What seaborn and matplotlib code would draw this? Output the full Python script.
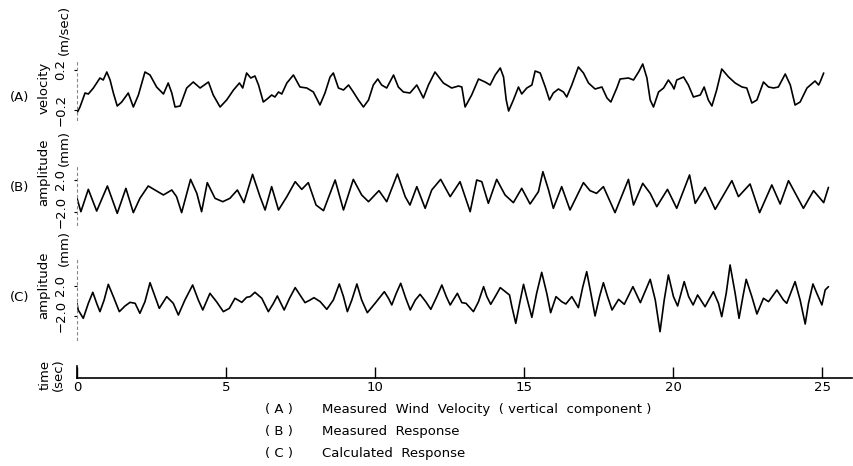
import matplotlib
matplotlib.use("Agg")
import matplotlib.pyplot as plt
import seaborn as sns

# (A) measured wind velocity (m/sec)
time_a = [0.0, 0.10, 0.27, 0.38, 0.55, 0.77, 0.88, 1.00, 1.11, 1.22,
          1.35, 1.50, 1.72, 1.89, 2.06, 2.28, 2.45, 2.67, 2.90, 3.06,
          3.18, 3.29, 3.46, 3.68, 3.90, 4.13, 4.41, 4.57, 4.80, 5.02,
          5.25, 5.45, 5.56, 5.69, 5.83, 5.97, 6.09, 6.25, 6.42, 6.53,
          6.64, 6.76, 6.87, 7.04, 7.26, 7.48, 7.71, 7.93, 8.15, 8.32,
          8.49, 8.60, 8.77, 8.94, 9.11, 9.27, 9.44, 9.61, 9.78, 9.94,
          10.09, 10.22, 10.39, 10.62, 10.78, 10.95, 11.17, 11.40,
          11.62, 11.79, 12.01, 12.29, 12.57, 12.80, 12.91, 13.02, 13.24, 13.47,
          13.69, 13.86, 14.03, 14.20, 14.31, 14.40, 14.48, 14.64, 14.81, 14.92,
          15.09, 15.26, 15.37, 15.54, 15.71, 15.85, 15.98, 16.15, 16.32, 16.43,
          16.60, 16.82, 16.99, 17.16, 17.38, 17.61, 17.78, 17.91, 18.11, 18.22,
          18.50, 18.67, 18.84, 18.98, 19.12, 19.23, 19.34, 19.51, 19.68, 19.84,
          19.96, 20.03, 20.12, 20.35, 20.51, 20.68, 20.91, 21.04, 21.18, 21.30,
          21.46, 21.63, 21.86, 22.08, 22.31, 22.47, 22.64, 22.81, 23.03, 23.20,
          23.37, 23.53, 23.76, 23.93, 24.09, 24.26, 24.49, 24.76, 24.88, 24.93,
          25.05]
vel_a = [-0.23, -0.17, -0.03, -0.04, 0.02, 0.12, 0.10, 0.18, 0.10, -0.03,
         -0.16, -0.12, -0.03, -0.17, -0.05, 0.18, 0.15, 0.03, -0.04, 0.07,
         -0.03, -0.17, -0.16, 0.02, 0.08, 0.02, 0.08, -0.05, -0.17, -0.10,
         0.0, 0.07, 0.02, 0.17, 0.12, 0.14, 0.05, -0.12, -0.08, -0.05,
         -0.07, -0.02, -0.04, 0.07, 0.15, 0.03, 0.02, -0.02, -0.15, -0.03,
         0.13, 0.17, 0.02, 0.0, 0.05, -0.02, -0.10, -0.17, -0.10, 0.05,
         0.11, 0.05, 0.02, 0.15, 0.03, -0.02, -0.03, 0.05,
         -0.08, 0.05, 0.18, 0.07, 0.02, 0.04, 0.03, -0.17, -0.05, 0.11,
         0.08, 0.05, 0.15, 0.22, 0.13, -0.10, -0.21, -0.10, 0.03, -0.04,
         0.02, 0.05, 0.19, 0.17, 0.03, -0.10, -0.03, 0.01, -0.02, -0.07,
         0.05, 0.23, 0.17, 0.07, 0.01, 0.03, -0.08, -0.12, 0.02, 0.11,
         0.12, 0.10, 0.18, 0.26, 0.12, -0.10, -0.17, -0.02, 0.02, 0.10,
         0.05, 0.01, 0.10, 0.13, 0.05, -0.07, -0.05, 0.03, -0.10, -0.16,
         0.0, 0.21, 0.13, 0.07, 0.03, 0.02, -0.13, -0.10, 0.08, 0.03,
         0.02, 0.03, 0.16, 0.05, -0.15, -0.12, 0.02, 0.09, 0.05, 0.08,
         0.17]

# (B) measured response (mm)
time_b = [0.0, 0.13, 0.38, 0.66, 1.02, 1.35, 1.64, 1.89, 2.11, 2.39,
          2.67, 2.90, 3.18, 3.34, 3.51, 3.81, 4.02, 4.18, 4.37, 4.63,
          4.89, 5.13, 5.38, 5.60, 5.89, 6.14, 6.31, 6.53, 6.76, 7.04,
          7.32, 7.54, 7.76, 8.02, 8.27, 8.66, 8.94, 9.27, 9.55, 9.78,
          10.13, 10.39, 10.75, 11.01, 11.17, 11.40, 11.68, 11.90, 12.20, 12.52,
          12.85, 13.19, 13.41, 13.58, 13.80, 14.08, 14.36, 14.64, 14.92, 15.20,
          15.48, 15.63, 15.82, 15.98, 16.26, 16.54, 16.99, 17.21, 17.43, 17.66,
          18.05, 18.50, 18.67, 18.98, 19.23, 19.45, 19.81, 20.12, 20.55, 20.74,
          21.07, 21.41, 21.97, 22.19, 22.58, 22.90, 23.31, 23.59, 23.87, 24.37,
          24.71, 25.05, 25.21]
amp_b = [-0.29, -1.96, 0.83, -1.88, 1.25, -2.17, 0.96, -2.08, -0.29, 1.25,
         0.63, 0.13, 0.75, -0.08, -2.08, 2.08, 0.33, -1.96, 1.67, -0.29,
         -0.71, -0.29, 0.75, -0.83, 2.71, -0.08, -1.75, 1.17, -1.75, -0.08,
         1.79, 0.83, 1.67, -1.13, -1.83, 2.0, -1.75, 2.08, 0.13, -0.71,
         0.67, -0.71, 2.75, -0.08, -1.13, 1.17, -1.54, 0.75, 2.08, -0.08,
         1.79, -1.96, 2.0, 1.79, -0.92, 2.08, 0.13, -0.83, 0.96, -1.0,
         0.54, 3.04, 0.75, -1.54, 1.17, -1.75, 1.67, 0.67, 0.33, 1.17,
         -2.08, 2.08, -1.13, 1.58, 0.33, -1.33, 0.83, -1.54, 2.63, -0.92,
         1.08, -1.67, 1.92, -0.08, 1.5, -2.08, 1.38, -1.0, 1.92, -1.54,
         0.67, -0.83, 1.08]

# (C) calculated response (mm)
time_c = [0.0, 0.04, 0.21, 0.38, 0.53, 0.66, 0.77, 0.91, 1.05, 1.22,
          1.42, 1.61, 1.78, 1.95, 2.11, 2.28, 2.45, 2.62, 2.76, 3.01,
          3.23, 3.40, 3.62, 3.88, 4.07, 4.22, 4.46, 4.68, 4.91, 5.11,
          5.30, 5.53, 5.69, 5.81, 5.97, 6.20, 6.42, 6.59, 6.72, 6.84,
          6.95, 7.13, 7.32, 7.48, 7.65, 7.82, 7.95, 8.16, 8.38, 8.60,
          8.80, 8.94, 9.07, 9.22, 9.39, 9.55, 9.74, 10.00, 10.31, 10.45,
          10.56, 10.71, 10.86, 11.03, 11.18, 11.35, 11.51, 11.70, 11.87, 12.07,
          12.24, 12.39, 12.52, 12.76, 12.91, 13.05, 13.30, 13.47, 13.64, 13.75,
          13.88, 14.03, 14.20, 14.37, 14.51, 14.59, 14.72, 14.85, 14.98, 15.11,
          15.26, 15.42, 15.59, 15.76, 15.89, 16.07, 16.26, 16.40, 16.60, 16.82,
          16.97, 17.10, 17.24, 17.38, 17.53, 17.66, 17.80, 17.95, 18.17, 18.36,
          18.65, 18.90, 19.23, 19.40, 19.56, 19.70, 19.84, 20.01, 20.15, 20.37,
          20.52, 20.67, 20.82, 21.07, 21.35, 21.52, 21.63, 21.78, 21.91, 22.08,
          22.21, 22.34, 22.45, 22.64, 22.81, 23.03, 23.20, 23.48, 23.70, 23.81,
          24.09, 24.26, 24.43, 24.54, 24.69, 24.82, 24.99, 25.10, 25.21]
amp_c = [-0.31, -1.2, -2.31, -0.31, 1.16, -0.31, -1.42, 0.13, 2.22, 0.58,
         -1.42, -0.67, -0.18, -0.31, -1.64, -0.09, 2.44, 0.58, -0.98, 0.58,
         -0.31, -1.87, 0.13, 2.13, 0.13, -1.2, 1.02, -0.09, -1.42, -0.98,
         0.36, -0.18, 0.49, 0.58, 1.16, 0.36, -1.42, -0.31, 0.67, -0.31,
         -1.2, 0.36, 1.78, 0.8, -0.22, 0.13, 0.44, -0.09, -1.11, 0.13,
         2.27, 0.58, -1.42, 0.13, 2.27, 0.13, -1.56, -0.31, 1.24, 0.36,
         -0.53, 1.02, 2.36, 0.36, -1.2, 0.13, 0.89, -0.09, -1.11, 0.58,
         2.13, 0.58, -0.53, 1.02, -0.22, -0.31, -1.42, -0.09, 1.91, 0.58,
         -0.44, 0.58, 1.78, 1.24, 0.8, -0.76, -2.98, -0.31, 2.22, 0.13,
         -2.18, 1.02, 3.82, 1.02, -1.56, 0.58, -0.09, -0.4, 0.58, -0.89,
         1.91, 3.91, 1.02, -2.0, 0.58, 2.44, 0.58, -1.2, 0.22, -0.44,
         1.91, -0.22, 2.89, 0.13, -4.09, 0.13, 3.47, 0.58, -0.67, 2.58,
         0.58, -0.53, 0.8, -0.76, 1.24, -0.31, -2.09, 1.02, 4.8, 1.02,
         -2.31, 0.58, 2.89, 0.58, -1.73, 0.36, -0.09, 1.47, 0.13, -0.31,
         2.58, 0.13, -3.07, -0.31, 2.27, 1.02, -0.53, 1.47, 1.91]

time_ticks = [0, 5, 10, 15, 20, 25]
legend_keys = ["( A )", "( B )", "( C )"]
legend_text = ["Measured  Wind  Velocity  ( vertical  component )",
               "Measured  Response",
               "Calculated  Response"]

sns.set_theme(style="white")
plt.rcParams["font.family"] = ["DejaVu Sans"]
plt.rcParams["text.color"] = "black"
plt.rcParams["xtick.color"] = "black"
plt.rcParams["ytick.color"] = "black"

W, H = 854, 466
fig = plt.figure(figsize=(W / 100, H / 100), dpi=100)
X0, X1 = 77, 852


def px_axes(top, bottom):
    return fig.add_axes([X0 / W, 1 - bottom / H, (X1 - X0) / W, (bottom - top) / H])


def trace_panel(top, bottom, t, y, ylim, ticks, ticklabels):
    ax = px_axes(top, bottom)
    sns.lineplot(x=t, y=y, ax=ax, color="black", lw=1.2, sort=False, estimator=None)
    ax.lines[0].set_solid_joinstyle("round")
    ax.set_xlim(0, 26)
    ax.set_ylim(*ylim)
    for s in ["top", "right", "bottom"]:
        ax.spines[s].set_visible(False)
    ax.spines["left"].set_linestyle((0, (2, 3)))
    ax.spines["left"].set_color("#888888")
    ax.spines["left"].set_linewidth(0.8)
    ax.set_xticks([])
    ax.set_yticks(ticks)
    ax.set_yticklabels(ticklabels, rotation=90, va="center", fontsize=9.5)
    ax.tick_params(axis="y", length=2, pad=5, left=True, width=0.8)
    ax.set_xlabel("")
    ax.set_ylabel("")
    ax.patch.set_alpha(0)
    return ax


trace_panel(60, 120, time_a, vel_a, (-0.30, 0.30), [-0.2, 0.2], ["\u22120.2", "0.2"])
trace_panel(165, 225, time_b, amp_b, (-3.625, 3.875), [-2, 2], ["\u22122.0", "2.0"])
trace_panel(258, 340, time_c, amp_c, (-5.2, 5.73), [-2, 2], ["\u22122.0", "2.0"])


def ftext(x, y, s, **kw):
    fig.text(x / W, 1 - y / H, s, ha="center", va="center", fontsize=9.5, **kw)


# left side annotations
ftext(20, 97, "(A)")
ftext(44, 88, "velocity", rotation=90)
ftext(64, 30, "(m/sec)", rotation=90)
ftext(20, 188, "(B)")
ftext(44, 172, "amplitude", rotation=90)
ftext(64, 148, "(mm)", rotation=90)
ftext(20, 298, "(C)")
ftext(44, 285, "amplitude", rotation=90)
ftext(64, 248, "(mm)", rotation=90)
ftext(45, 375, "time", rotation=90)
ftext(58, 375, "(sec)", rotation=90)

# time axis
axt = px_axes(366, 378)
axt.set_xlim(0, 26)
axt.set_ylim(0, 1)
for s in ["top", "right"]:
    axt.spines[s].set_visible(False)
for s in ["left", "bottom"]:
    axt.spines[s].set_color("black")
    axt.spines[s].set_linewidth(1.2)
axt.set_xticks(time_ticks)
axt.set_xticklabels([str(v) for v in time_ticks], fontsize=9.5)
axt.tick_params(axis="x", direction="in", length=8, width=1, pad=2, bottom=True)
axt.set_yticks([])
axt.patch.set_alpha(0)

# legend lines below the chart
for i, (k, txt) in enumerate(zip(legend_keys, legend_text)):
    y = 409 + 22 * i
    fig.text(265 / W, 1 - y / H, k, ha="left", va="center", fontsize=9.5)
    fig.text(322 / W, 1 - y / H, txt, ha="left", va="center", fontsize=9.5)

fig.savefig("out.png", dpi=100)
